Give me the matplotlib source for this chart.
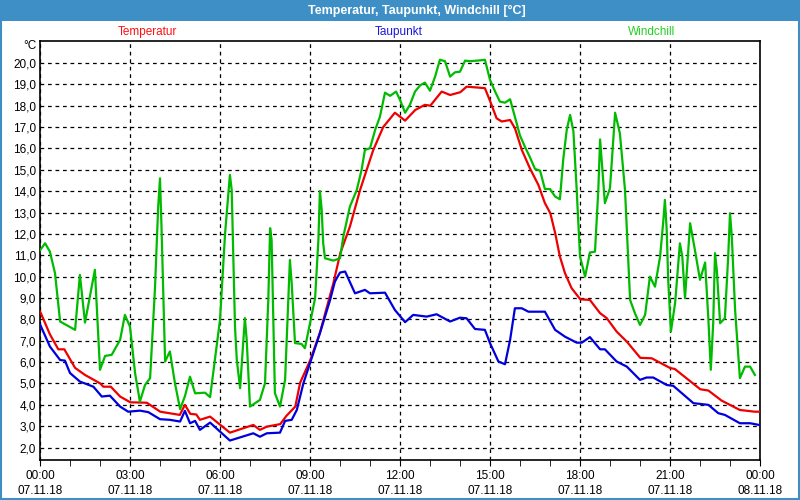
import matplotlib
matplotlib.use("Agg")
import matplotlib.pyplot as plt
from matplotlib.patches import Rectangle
from matplotlib.ticker import FixedLocator, MultipleLocator

# --- data (hours since 07.11.18 00:00, values in °C) ---
temp_h = [0.0, 0.32, 0.6, 0.8, 1.16, 1.49, 2.0, 2.1, 2.35, 2.66, 3.0, 3.55, 4.0, 4.65,
          4.82, 5.0, 5.2, 5.32, 5.66, 6.32, 7.1, 7.32, 7.55, 8.0, 8.2, 8.5, 8.66, 9.0,
          9.32, 9.77, 10.0, 10.32, 10.66, 10.88, 11.1, 11.43, 11.82, 12.16, 12.5, 12.82,
          13.0, 13.38, 13.66, 14.0, 14.21, 14.82, 15.0, 15.21, 15.38, 15.66, 15.82,
          16.05, 16.32, 16.6, 16.82, 17.0, 17.16, 17.32, 17.49, 17.71, 18.0, 18.32,
          18.66, 18.88, 19.21, 19.55, 20.0, 20.38, 21.0, 21.15, 22.0, 22.27, 22.71,
          23.32, 23.82, 24.0]
temp_v = [8.35, 7.3, 6.6, 6.6, 5.73, 5.4, 5.0, 4.85, 4.85, 4.39, 4.12, 4.1, 3.68, 3.53,
          4.0, 3.58, 3.55, 3.3, 3.45, 2.7, 3.06, 2.83, 2.98, 3.1, 3.48, 3.92, 5.03, 6.1,
          7.37, 9.7, 11.1, 12.34, 14.06, 15.0, 15.93, 17.0, 17.67, 17.3, 17.8, 18.04,
          18.0, 18.66, 18.5, 18.63, 18.89, 18.82, 18.19, 17.41, 17.26, 17.33, 16.95,
          15.93, 15.07, 14.3, 13.44, 12.97, 12.05, 10.94, 10.16, 9.46, 8.94, 8.91,
          8.29, 8.06, 7.43, 6.96, 6.2, 6.18, 5.72, 5.68, 4.73, 4.67, 4.2,
          3.76, 3.68, 3.68]

dew_h = [0.0, 0.32, 0.66, 0.82, 0.99, 1.32, 1.77, 2.05, 2.32, 2.66, 2.93, 3.32, 3.6,
         3.99, 4.32, 4.66, 4.82, 4.99, 5.16, 5.32, 5.66, 6.32, 7.1, 7.32, 7.55, 7.99,
         8.16, 8.38, 8.55, 8.77, 8.99, 9.32, 9.66, 9.82, 9.99, 10.16, 10.49, 10.82,
         10.99, 11.49, 11.82, 12.16, 12.43, 12.88, 13.21, 13.66, 13.99, 14.21, 14.49,
         14.82, 14.99, 15.27, 15.49, 15.66, 15.82, 16.05, 16.27, 16.82, 17.16, 17.49,
         17.88, 18.05, 18.32, 18.66, 18.82, 19.21, 19.55, 19.99, 20.21, 20.43, 20.88,
         21.1, 21.77, 22.27, 22.6, 22.82, 23.32, 23.66, 24.0]
dew_v = [7.74, 6.73, 6.1, 6.07, 5.49, 5.09, 4.85, 4.39, 4.43, 3.92, 3.68, 3.73, 3.66,
         3.33, 3.3, 3.22, 3.72, 3.14, 3.25, 2.83, 3.17, 2.33, 2.67, 2.51, 2.67, 2.7,
         3.25, 3.3, 3.76, 5.01, 5.95, 7.35, 8.91, 9.77, 10.19, 10.24, 9.22, 9.38,
         9.22, 9.25, 8.44, 7.87, 8.21, 8.13, 8.24, 7.9, 8.08, 8.05, 7.55,
         7.51, 6.89, 6.03, 5.9, 7.04, 8.52, 8.52, 8.36, 8.36, 7.51, 7.19,
         6.91, 6.91, 7.17, 6.6, 6.6, 6.03, 5.79, 5.17, 5.28, 5.28, 4.93,
         4.89, 4.08, 4.0, 3.61, 3.53, 3.14, 3.14, 3.05]

chill_h = [0.0, 0.16, 0.32, 0.49, 0.66, 1.16, 1.32, 1.49, 1.82, 1.99, 2.16, 2.38, 2.66,
           2.82, 2.99, 3.16, 3.32, 3.49, 3.66, 3.82, 3.93, 3.99, 4.04, 4.16, 4.32, 4.49,
           4.66, 4.82, 4.99, 5.16, 5.49, 5.66, 5.82, 5.99, 6.16, 6.32, 6.38, 6.49, 6.55,
           6.66, 6.82, 6.88, 6.99, 7.32, 7.49, 7.6, 7.66, 7.71, 7.82, 7.99, 8.16, 8.27,
           8.32, 8.38, 8.49, 8.71, 8.82, 8.99, 9.16, 9.27, 9.32, 9.38, 9.43, 9.49, 9.77,
           9.99, 10.1, 10.32, 10.55, 10.71, 10.82, 10.99, 11.16, 11.32, 11.49, 11.66,
           11.86, 11.99, 12.16, 12.32, 12.49, 12.66, 12.82, 12.99, 13.16, 13.32, 13.49,
           13.66, 13.82, 13.99, 14.16, 14.32, 14.66, 14.82, 14.99, 15.16, 15.32, 15.49,
           15.66, 15.82, 15.99, 16.16, 16.32, 16.49, 16.66, 16.82, 16.99, 17.16, 17.32,
           17.43, 17.55, 17.66, 17.77, 17.88, 17.99, 18.16, 18.32, 18.49, 18.6, 18.66,
           18.71, 18.82, 18.99, 19.16, 19.32, 19.49, 19.66, 19.82, 19.99, 20.16, 20.32,
           20.49, 20.66, 20.77, 20.82, 20.88, 20.93, 21.02, 21.16, 21.32, 21.4, 21.49,
           21.66, 21.82, 21.99, 22.16, 22.27, 22.35, 22.43, 22.49, 22.55, 22.66, 22.82,
           22.93, 22.99, 23.05, 23.16, 23.32, 23.49, 23.66, 23.82]
chill_v = [11.25, 11.56, 11.17, 10.16, 7.9, 7.51, 10.08, 7.85, 10.32, 5.64, 6.29, 6.34, 7.04,
           8.21, 7.66, 5.48, 4.15, 4.93, 5.25, 9.38, 13.28, 14.6, 12.34, 6.03, 6.5, 5.0,
           3.8, 4.4, 5.32, 4.54, 4.57, 4.36, 6.1, 7.98, 12.03, 14.76, 14.06, 7.66, 6.1,
           4.78, 8.06, 7.04, 3.92, 4.23, 5.01, 8.91, 12.27, 11.72, 4.55, 3.92, 5.17, 9.06,
           10.78, 9.69, 6.89, 6.85, 6.65, 7.82, 8.99, 11.72, 14.01, 13.12, 11.56, 10.86, 10.75,
           10.86, 11.87, 13.28, 14.06, 15.0, 15.93, 16.01, 16.86, 17.48, 18.61, 18.46,
           18.66, 18.27, 17.67, 18.04, 18.66, 18.95, 19.08, 18.7, 19.36, 20.15, 20.08,
           19.36, 19.56, 19.59, 20.11, 20.08, 20.12, 20.15, 19.21, 18.66, 18.19, 18.14,
           18.3, 17.48, 16.6, 16.06, 15.59, 15.04, 14.96, 14.1, 14.1, 13.75, 13.62,
           15.47, 16.89, 17.57, 16.8, 14.06, 10.94, 10.0, 11.13, 11.17, 14.06, 16.42,
           15.47, 13.44, 14.14, 17.67, 16.7, 14.06, 8.91, 8.29, 7.74, 8.21, 10.0,
           9.53, 10.94, 12.66, 13.59, 12.19, 9.85, 7.43, 8.76, 11.56, 10.94, 8.99,
           12.5, 11.25, 9.85, 10.66, 7.98, 5.64, 7.82, 11.1, 10.32, 7.82, 8.06,
           10.94, 12.97, 11.87, 8.44, 5.25, 5.79, 5.79, 5.4]

y_ticks = [2, 3, 4, 5, 6, 7, 8, 9, 10, 11, 12, 13, 14, 15, 16, 17, 18, 19, 20]
x_ticks = [0, 3, 6, 9, 12, 15, 18, 21, 24]
x_labels = ["00:00\n07.11.18", "03:00\n07.11.18", "06:00\n07.11.18", "09:00\n07.11.18",
            "12:00\n07.11.18", "15:00\n07.11.18", "18:00\n07.11.18", "21:00\n07.11.18",
            "00:00\n08.11.18"]

series = [
    ("Temperatur", temp_h, temp_v, "#ee0000", "#ff1010"),
    ("Taupunkt", dew_h, dew_v, "#0000dd", "#1818e0"),
    ("Windchill", chill_h, chill_v, "#00bb00", "#22d022"),
]

plt.rcParams["font.family"] = ["Liberation Sans", "DejaVu Sans"]
bar_blue = "#3d8fc5"

fig = plt.figure(figsize=(8, 5), dpi=100, facecolor="white")

# title bar + frame
fig.patches.append(Rectangle((0, 0.9585), 1, 0.0415, transform=fig.transFigure,
                             facecolor=bar_blue, edgecolor="none", zorder=0))
fig.patches.append(Rectangle((0.0012, 0.002), 0.9976, 0.996, transform=fig.transFigure,
                             facecolor="none", edgecolor=bar_blue, linewidth=1.5, zorder=5))
fig.text(0.521, 0.979, "Temperatur, Taupunkt, Windchill [°C]", ha="center", va="center",
         color="white", fontsize=9, fontweight="bold")

ax = fig.add_axes([40.3 / 800, 40 / 500, 720 / 800, 419.5 / 500])
ax.set_facecolor("white")

for name, hh, vv, col, _ in series:
    ax.plot(hh, vv, color=col, linewidth=1.6, zorder=3)

ax.set_xlim(0, 24)
ax.set_ylim(1.42, 21.05)

ax.yaxis.set_major_locator(FixedLocator(y_ticks))
ax.set_yticklabels([f"{v:.1f}".replace(".", ",") for v in y_ticks])
ax.xaxis.set_major_locator(FixedLocator(x_ticks))
ax.set_xticklabels(x_labels, linespacing=1.4)
ax.xaxis.set_minor_locator(MultipleLocator(1))

ax.tick_params(axis="y", length=0, pad=3, labelsize=8.5, colors="black")
ax.tick_params(axis="x", which="both", length=4, direction="out", pad=3,
               labelsize=8.5, colors="black")

ax.grid(True, which="major", color="black", linestyle=(0, (3, 3)), linewidth=0.9)
for sp in ax.spines.values():
    sp.set_color("black")
    sp.set_linewidth(1.2)

# unit and legend labels
fig.text(30 / 800, 1 - 46 / 500, "°C", ha="center", va="center", fontsize=8.5)
for (name, _, _, _, tcol), xc in zip(series, [147, 399, 652]):
    fig.text(xc / 800, 1 - 32 / 500, name, ha="center", va="center", color=tcol, fontsize=8.5)

fig.savefig("out.png", dpi=100, facecolor="white")
